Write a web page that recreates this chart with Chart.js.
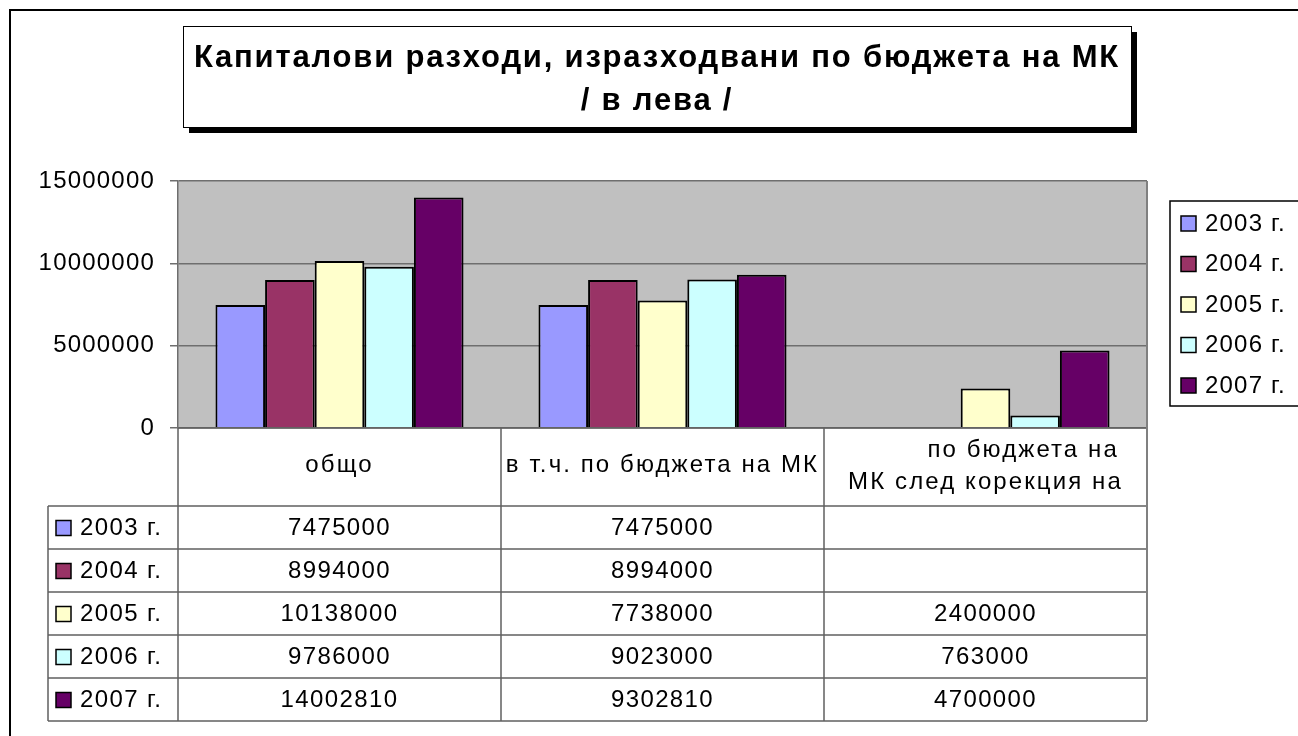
<!DOCTYPE html>
<html>
<head>
<meta charset="utf-8">
<title>Капиталови разходи</title>
<script src="https://cdn.jsdelivr.net/npm/chart.js@4.4.1/dist/chart.umd.min.js"></script>
<style>
  body { margin: 0; background: #fff; }
  canvas { display: block; }
</style>
</head>
<body>
<canvas id="myChart" width="1298" height="736"></canvas>
<script>
/* ======================================
        DATA
========================================*/
const categories = ['общо', 'в т.ч. по бюджета на МК', ['по бюджета на', 'МК след корекция на']];
const years = ['2003 г.', '2004 г.', '2005 г.', '2006 г.', '2007 г.'];
const y2003 = [7475000, 7475000, null];
const y2004 = [8994000, 8994000, null];
const y2005 = [10138000, 7738000, 2400000];
const y2006 = [9786000, 9023000, 763000];
const y2007 = [14002810, 9302810, 4700000];
const yTicks = [0, 5000000, 10000000, 15000000];
const titleLines = ['Капиталови разходи, изразходвани по бюджета на МК', '/ в лева /'];

const series = [y2003, y2004, y2005, y2006, y2007];
const colors = ['#9999FF', '#993366', '#FFFFCC', '#CCFFFF', '#660066'];
const FONT = '"Liberation Sans", Arial, sans-serif';

/* ======================================
        BACKGROUND + FRAME
========================================*/
const backPlugin = {
  id: 'backPlugin',
  beforeDraw(chart) {
    const ctx = chart.ctx;
    const a = chart.chartArea;
    ctx.save();
    ctx.fillStyle = '#fff';
    ctx.fillRect(0, 0, chart.width, chart.height);
    ctx.fillStyle = '#C0C0C0';
    ctx.fillRect(a.left, a.top, a.right - a.left, a.bottom - a.top);
    ctx.restore();
    // all text in the picture is slightly spaced out
    ctx.letterSpacing = '1.2px';
  }
};

/* ======================================
        TITLE, LEGEND, DATA TABLE
========================================*/
const extrasPlugin = {
  id: 'extrasPlugin',
  afterDraw(chart) {
    const ctx = chart.ctx;
    const a = chart.chartArea;
    const x = chart.scales.x;
    const half = (a.right - a.left) / categories.length / 2;

    ctx.save();
    // outer frame
    ctx.strokeStyle = '#000';
    ctx.lineWidth = 2;
    ctx.strokeRect(10, 10, 1400, 900);

    // title box with shadow
    ctx.fillStyle = '#000';
    ctx.fillRect(189, 32, 948, 101);
    ctx.fillStyle = '#fff';
    ctx.fillRect(183, 26, 948, 101);
    ctx.lineWidth = 1;
    ctx.strokeRect(183.5, 26.5, 948, 101);
    ctx.fillStyle = '#000';
    ctx.font = 'bold 31px ' + FONT;
    ctx.letterSpacing = '1.8px';
    ctx.textAlign = 'center';
    ctx.textBaseline = 'middle';
    ctx.fillText(titleLines[0], 657, 58);
    ctx.fillText(titleLines[1], 657, 101);

    ctx.letterSpacing = '1.2px';
    ctx.font = '24px ' + FONT;

    // legend on the right
    ctx.lineWidth = 1.5;
    ctx.strokeStyle = '#000';
    ctx.strokeRect(1170, 201, 200, 205);
    ctx.textAlign = 'left';
    years.forEach((label, i) => {
      const cy = 223 + i * 40.5;
      ctx.fillStyle = colors[i];
      ctx.fillRect(1181, cy - 7, 15, 15);
      ctx.strokeRect(1181, cy - 7, 15, 15);
      ctx.fillStyle = '#000';
      ctx.fillText(label, 1205, cy + 1);
    });

    // table grid
    const top = a.bottom;
    const headH = 78;
    const rowH = 43;
    const bottom = top + headH + rowH * years.length;
    ctx.strokeStyle = '#606060';
    ctx.lineWidth = 1.5;
    ctx.beginPath();
    ctx.moveTo(a.left, top);
    ctx.lineTo(a.right, top);
    for (let r = 0; r <= years.length; r++) {
      const yy = top + headH + r * rowH;
      ctx.moveTo(48, yy);
      ctx.lineTo(a.right, yy);
    }
    ctx.moveTo(48, top + headH);
    ctx.lineTo(48, bottom);
    categories.forEach((c, i) => {
      const xx = x.getPixelForValue(i) - half;
      ctx.moveTo(xx, top);
      ctx.lineTo(xx, bottom);
    });
    ctx.stroke();
    ctx.strokeStyle = '#808080';
    ctx.lineWidth = 2;
    ctx.beginPath();
    ctx.moveTo(a.right, a.top);
    ctx.lineTo(a.right, bottom);
    ctx.stroke();

    // header labels
    ctx.fillStyle = '#000';
    ctx.letterSpacing = '2.1px';
    categories.forEach((c, i) => {
      const cx = x.getPixelForValue(i);
      if (Array.isArray(c)) {
        const w2 = ctx.measureText(c[1]).width;
        ctx.textAlign = 'right';
        ctx.fillText(c[0], cx + w2 / 2 - 4, top + 22);
        ctx.textAlign = 'center';
        ctx.fillText(c[1], cx, top + 54);
      } else {
        ctx.textAlign = 'center';
        ctx.fillText(c, cx, top + 37);
      }
    });
    ctx.letterSpacing = '1.4px';

    // rows
    ctx.lineWidth = 1.5;
    ctx.strokeStyle = '#000';
    years.forEach((label, r) => {
      const cy = top + headH + r * rowH + rowH / 2;
      ctx.fillStyle = colors[r];
      ctx.fillRect(56, cy - 7, 15, 15);
      ctx.strokeRect(56, cy - 7, 15, 15);
      ctx.fillStyle = '#000';
      ctx.textAlign = 'left';
      ctx.fillText(label, 80, cy + 1);
      ctx.textAlign = 'center';
      series[r].forEach((v, i) => {
        if (v === null) return;
        ctx.fillText(String(v), x.getPixelForValue(i), cy + 1);
      });
    });
    ctx.restore();
  }
};

/* ======================================
        CHART
========================================*/
const myChart = document.getElementById('myChart').getContext('2d');
const barChart = new Chart(myChart, {
  type: 'bar',
  data: {
    labels: categories,
    datasets: years.map((label, i) => ({
      label: label,
      data: series[i],
      backgroundColor: colors[i],
      borderColor: '#000',
      borderWidth: 2,
      categoryPercentage: 0.768,
      barPercentage: 1
    }))
  },
  options: {
    responsive: false,
    animation: false,
    layout: { padding: { top: 181, right: 151, bottom: 308, left: 0 } },
    plugins: {
      legend: { display: false },
      title: { display: false },
      tooltip: { enabled: false }
    },
    scales: {
      x: { display: false },
      y: {
        min: 0,
        max: 15000000,
        afterBuildTicks: scale => { scale.ticks = yTicks.map(v => ({ value: v })); },
        afterFit: scale => { scale.width = 178; },
        ticks: {
          padding: 15,
          color: '#000',
          font: { family: FONT, size: 24 },
          callback: v => String(v)
        },
        grid: { color: '#6e6e6e', lineWidth: 1.5, tickLength: 8 },
        border: { color: '#6e6e6e', width: 1.5 }
      }
    }
  },
  plugins: [backPlugin, extrasPlugin]
});
</script>
</body>
</html>
